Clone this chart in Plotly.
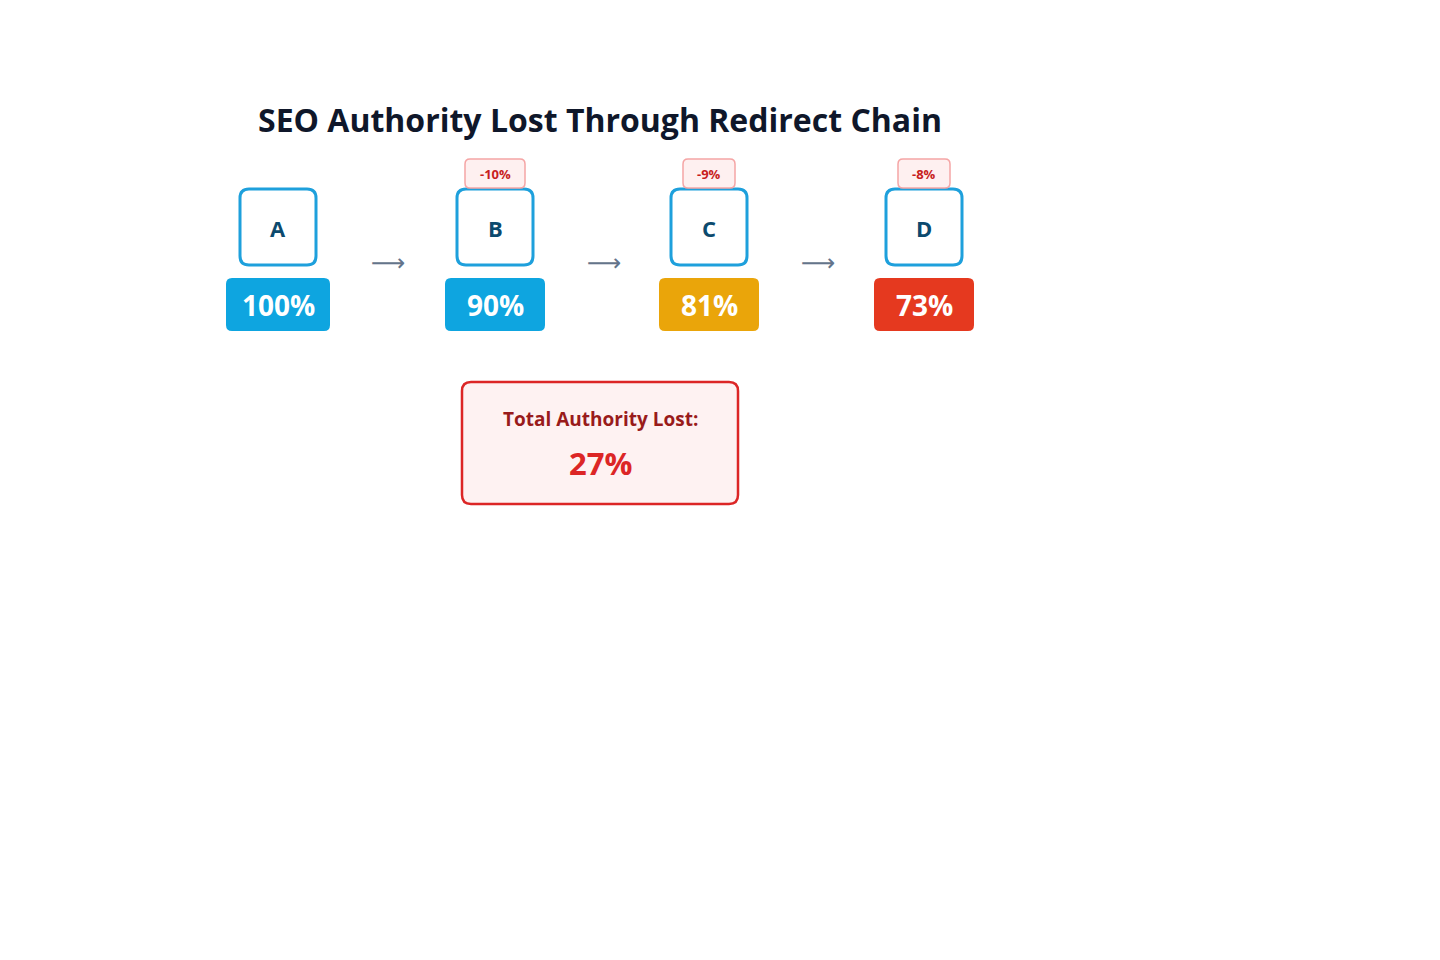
import plotly.graph_objects as go

nodes = ["A", "B", "C", "D"]
authority = [100, 90, 81, 73]
drops = [None, -10, -9, -8]
total_lost = 27
title = "SEO Authority Lost Through Redirect Chain"

value_colors = ["#0ea5e0", "#0ea5e0", "#eaa50a", "#e5391f"]
centers = [278, 495, 709, 924]
FONT = "Open Sans"

def rrect(x0, y0, x1, y1, r):
    return (f"M{x0+r},{y0} L{x1-r},{y0} Q{x1},{y0} {x1},{y0+r} L{x1},{y1-r} Q{x1},{y1} {x1-r},{y1} "
            f"L{x0+r},{y1} Q{x0},{y1} {x0},{y1-r} L{x0},{y0+r} Q{x0},{y0} {x0+r},{y0} Z")

fig = go.Figure()
fig.add_trace(go.Scatter(x=[8, 1448], y=[8, 968], mode="markers", marker=dict(opacity=0), hoverinfo="skip", showlegend=False))
shapes, ann = [], []

ann.append(dict(x=600, y=119, text=f"<b>{title}</b>", showarrow=False,
                font=dict(family=FONT, size=32, color="#0f172a")))

for i, (n, v, d) in enumerate(zip(nodes, authority, drops)):
    cx = centers[i]
    shapes.append(dict(type="path", path=rrect(cx - 38, 189, cx + 38, 265, 9),
                       line=dict(color="#1ea0dc", width=3), fillcolor="white"))
    ann.append(dict(x=cx, y=228, text=f"<b>{n}</b>", showarrow=False,
                    font=dict(family=FONT, size=22, color="#0c4a6e")))
    w = 52 if v >= 100 else 50
    shapes.append(dict(type="path", path=rrect(cx - w, 278, cx + w, 331, 6),
                       line=dict(width=0), fillcolor=value_colors[i]))
    ann.append(dict(x=cx, y=305, text=f"<b>{v}%</b>", showarrow=False,
                    font=dict(family=FONT, size=28, color="white")))
    if d is not None:
        bw = 30 if d <= -10 else 26
        shapes.append(dict(type="path", path=rrect(cx - bw, 159, cx + bw, 188, 5),
                           line=dict(color="#f5a5a5", width=1.5), fillcolor="#fef0f0"))
        ann.append(dict(x=cx, y=174, text=f"<b>{d}%</b>", showarrow=False,
                        font=dict(family=FONT, size=13, color="#c81e1e")))
    if i < len(nodes) - 1:
        ax = (cx + centers[i + 1]) / 2 + 1.5
        ann.append(dict(x=ax, y=263, text="⟶", showarrow=False,
                        font=dict(family="DejaVu Sans", size=24, color="#64748b")))

shapes.append(dict(type="path", path=rrect(462, 382, 738, 504, 9),
                   line=dict(color="#dc2626", width=2.5), fillcolor="#fef2f2"))
ann.append(dict(x=600, y=419, text="<b>Total Authority Lost:</b>", showarrow=False,
                font=dict(family=FONT, size=19, color="#991b1b")))
ann.append(dict(x=600, y=463, text=f"<b>{total_lost}%</b>", showarrow=False,
                font=dict(family=FONT, size=31, color="#dc2626")))

fig.update_layout(width=1440, height=960, margin=dict(l=0, r=0, t=0, b=0),
                  paper_bgcolor="white", plot_bgcolor="white", shapes=shapes, annotations=ann,
                  xaxis=dict(range=[8, 1448], visible=False, fixedrange=True),
                  yaxis=dict(range=[968, 8], visible=False, fixedrange=True))
fig.write_html("out.html", config={"displayModeBar": False})
